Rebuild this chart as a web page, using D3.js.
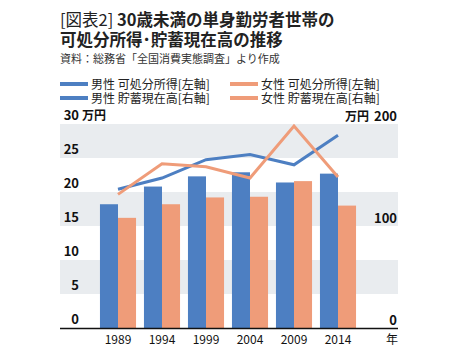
<!DOCTYPE html>
<html>
<head>
<meta charset="utf-8">
<script src="https://cdn.jsdelivr.net/npm/d3@7"></script>
<style>
  body { margin: 0; background: #fff; }
  text { font-family: "Noto Sans CJK JP", "Noto Sans", sans-serif; }
</style>
</head>
<body>
<div id="chart"></div>
<script>
const width = 464;
const height = 362;

// データ
const years = ["1989", "1994", "1999", "2004", "2009", "2014"];
const maleIncome = [18.2, 20.8, 22.3, 22.9, 21.4, 22.7];     // 万円 左軸
const femaleIncome = [16.2, 18.2, 19.2, 19.3, 21.6, 18.0];   // 万円 左軸
const maleSavings = [136, 147, 165, 170, 160, 189];          // 万円 右軸
const femaleSavings = [131, 161, 158, 147, 198, 148];        // 万円 右軸
const leftTicks = [0, 5, 10, 15, 20, 25, 30];
const rightTicks = [0, 100, 200];
const legendItems = [
  { label: "男性 可処分所得[左軸]", key: "male" },
  { label: "女性 可処分所得[左軸]", key: "female" },
  { label: "男性 貯蓄現在高[右軸]", key: "male" },
  { label: "女性 貯蓄現在高[右軸]", key: "female" }
];

const color = { male: "#4d7fc2", female: "#ef9c79" };

const svg = d3.select("#chart")
  .append("svg")
  .attr("width", width)
  .attr("height", height);

// タイトル
svg.append("text")
  .attr("x", 60)
  .attr("y", 26)
  .attr("font-size", 16.5)
  .attr("fill", "#222")
  .text("[図表2]");
svg.append("text")
  .attr("x", 117)
  .attr("y", 26)
  .attr("font-size", 16.5)
  .attr("font-weight", "bold")
  .attr("fill", "#222")
  .text("30歳未満の単身勤労者世帯の");

svg.append("text")
  .attr("x", 60)
  .attr("y", 46)
  .attr("font-size", 16.5)
  .attr("font-weight", "bold")
  .attr("fill", "#222")
  .text("可処分所得･貯蓄現在高の推移");

svg.append("text")
  .attr("x", 60)
  .attr("y", 63)
  .attr("font-size", 11)
  .attr("fill", "#333")
  .text("資料：総務省「全国消費実態調査」より作成");

// 凡例
legendItems.forEach((d, i) => {
  const gx = i % 2 === 0 ? 60 : 230;
  const gy = i < 2 ? 84 : 98;
  svg.append("rect")
    .attr("x", gx)
    .attr("y", gy - 2)
    .attr("width", 28)
    .attr("height", 4)
    .attr("fill", color[d.key]);
  svg.append("text")
    .attr("x", gx + 31)
    .attr("y", gy + 4.5)
    .attr("font-size", 12)
    .attr("fill", "#222")
    .text(d.label);
});

// スケール
const plotLeft = 60, plotRight = 398;
const x = d3.scaleBand()
  .domain(years)
  .range([96, 360])
  .paddingInner(0.18)
  .paddingOuter(0.09);
const yL = d3.scaleLinear().domain([0, 30]).range([328, 124]);
const yR = d3.scaleLinear().domain([0, 200]).range([328, 124]);

// 背景の帯
[[5, 10], [15, 20], [25, 30]].forEach(([a, b]) => {
  svg.append("rect")
    .attr("x", plotLeft)
    .attr("y", yL(b))
    .attr("width", plotRight - plotLeft)
    .attr("height", yL(a) - yL(b))
    .attr("fill", "#e9ecef");
});

// 棒グラフ
const bw = x.bandwidth() / 2;
years.forEach((yr, i) => {
  svg.append("rect")
    .attr("x", x(yr))
    .attr("y", yL(maleIncome[i]))
    .attr("width", bw)
    .attr("height", yL(0) - yL(maleIncome[i]))
    .attr("fill", color.male);
  svg.append("rect")
    .attr("x", x(yr) + bw)
    .attr("y", yL(femaleIncome[i]))
    .attr("width", bw)
    .attr("height", yL(0) - yL(femaleIncome[i]))
    .attr("fill", color.female);
});

// 折れ線
const line = d3.line()
  .x((d, i) => x(years[i]) + x.bandwidth() / 2)
  .y(d => yR(d));

[[maleSavings, color.male], [femaleSavings, color.female]].forEach(([data, c]) => {
  svg.append("path")
    .datum(data)
    .attr("d", line)
    .attr("fill", "none")
    .attr("stroke", c)
    .attr("stroke-width", 3)
    .attr("stroke-linejoin", "miter");
});

// 基線
svg.append("line")
  .attr("x1", plotLeft)
  .attr("x2", plotRight)
  .attr("y1", yL(0) + 0.5)
  .attr("y2", yL(0) + 0.5)
  .attr("stroke", "#111")
  .attr("stroke-width", 1.5);

// 左軸ラベル
leftTicks.forEach(v => {
  svg.append("text")
    .attr("x", 79)
    .attr("y", yL(v) - 4)
    .attr("text-anchor", "end")
    .attr("font-size", 13)
    .attr("font-weight", "bold")
    .attr("fill", "#111")
    .text(v);
});
svg.append("text")
  .attr("x", 82)
  .attr("y", yL(30) - 4)
  .attr("font-size", 12)
  .attr("font-weight", "bold")
  .attr("fill", "#111")
  .text("万円");

// 右軸ラベル
rightTicks.forEach(v => {
  svg.append("text")
    .attr("x", 397)
    .attr("y", yR(v) - 3)
    .attr("text-anchor", "end")
    .attr("font-size", 13)
    .attr("font-weight", "bold")
    .attr("fill", "#111")
    .text(v);
});
svg.append("text")
  .attr("x", 369)
  .attr("y", yR(200) - 3)
  .attr("text-anchor", "end")
  .attr("font-size", 12)
  .attr("font-weight", "bold")
  .attr("fill", "#111")
  .text("万円");

// 年ラベル
years.forEach(yr => {
  svg.append("text")
    .attr("x", x(yr) + x.bandwidth() / 2)
    .attr("y", 344)
    .attr("text-anchor", "middle")
    .attr("font-size", 12)
    .attr("fill", "#111")
    .text(yr);
});
svg.append("text")
  .attr("x", 392)
  .attr("y", 344)
  .attr("text-anchor", "middle")
  .attr("font-size", 12)
  .attr("fill", "#111")
  .text("年");
</script>
</body>
</html>
